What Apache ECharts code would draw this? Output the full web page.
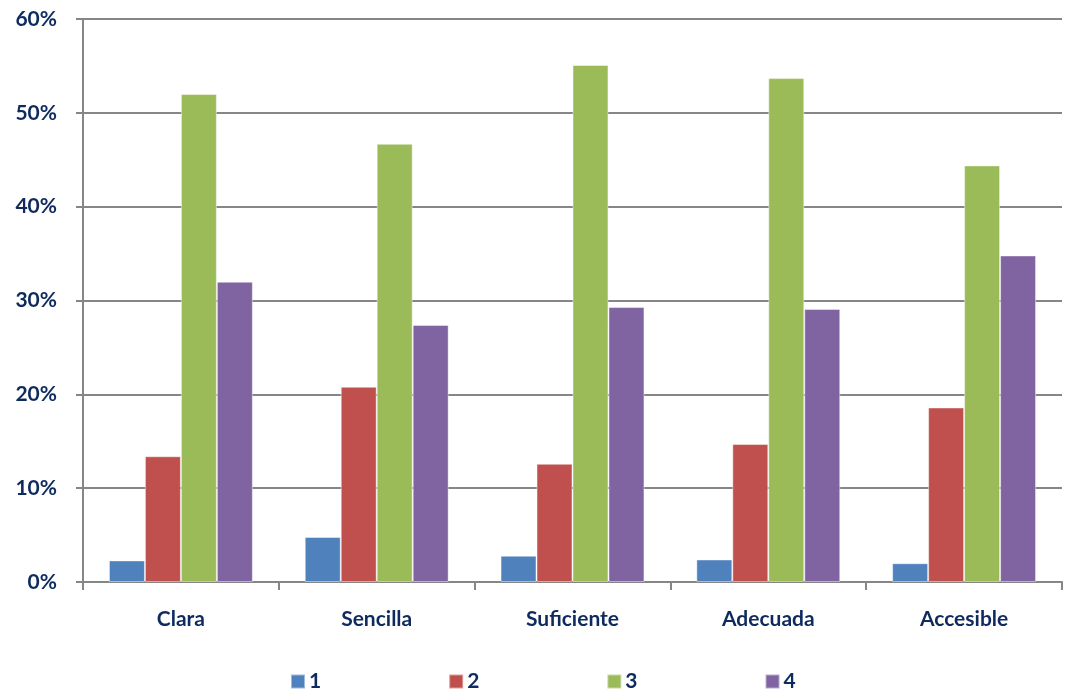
<!DOCTYPE html>
<html>
<head>
<meta charset="utf-8">
<script src="https://cdn.jsdelivr.net/npm/echarts@6/dist/echarts.min.js"></script>
<style>
  html, body { margin: 0; padding: 0; background: #ffffff; }
  #chart { width: 1065px; height: 693px; }
</style>
</head>
<body>
<div id="chart"></div>
<script>
// Survey ratings (share of responses per score) for each attribute
const categories = ['Clara', 'Sencilla', 'Suficiente', 'Adecuada', 'Accesible'];
const seriesNames = ['1', '2', '3', '4'];
const score1 = [2.3, 4.8, 2.8, 2.4, 2.0];
const score2 = [13.4, 20.8, 12.6, 14.7, 18.6];
const score3 = [52.0, 46.7, 55.1, 53.7, 44.4];
const score4 = [32.0, 27.4, 29.3, 29.1, 34.8];
const colors = ['#4F81BD', '#C0504D', '#9BBB59', '#8064A2'];

const textColor = '#0E2A5E';
const lineColor = '#868686';
const fontFamily = 'Lato, "Open Sans", sans-serif';

const values = [score1, score2, score3, score4];

const chart = echarts.init(document.getElementById('chart'), null, { renderer: 'canvas' });

chart.setOption({
  animation: false,
  backgroundColor: '#ffffff',
  color: colors,
  grid: { left: 83, right: 3, top: 19, bottom: 111, containLabel: false },
  legend: {
    data: seriesNames,
    top: 671,
    left: 290,
    padding: 0,
    itemWidth: 14,
    itemHeight: 14,
    itemGap: 127,
    icon: 'rect',
    textStyle: { color: textColor, fontSize: 21, fontWeight: 'bold', fontFamily: fontFamily, padding: [0, 0, 0, -1] }
  },
  xAxis: {
    type: 'category',
    data: categories,
    axisLine: { show: true, lineStyle: { color: lineColor, width: 2 } },
    axisTick: { show: true, length: 8, lineStyle: { color: lineColor, width: 2 } },
    axisLabel: { color: textColor, fontSize: 21, fontWeight: 'bold', fontFamily: fontFamily, margin: 27 }
  },
  yAxis: {
    type: 'value',
    min: 0,
    max: 60,
    interval: 10,
    axisLine: { show: true, lineStyle: { color: lineColor, width: 2 } },
    axisTick: { show: true, length: 7, lineStyle: { color: lineColor, width: 2 } },
    splitLine: { show: true, lineStyle: { color: lineColor, width: 2 } },
    axisLabel: {
      color: textColor, fontSize: 21, fontWeight: 'bold', fontFamily: fontFamily, margin: 26,
      formatter: v => v + '%'
    }
  },
  series: seriesNames.map((name, i) => ({
    name: name,
    type: 'bar',
    data: values[i],
    barGap: '0%',
    barCategoryGap: '26.5%',
    itemStyle: { color: colors[i], borderColor: 'rgba(255,255,255,0.45)', borderWidth: 1 }
  }))
});
</script>
</body>
</html>
